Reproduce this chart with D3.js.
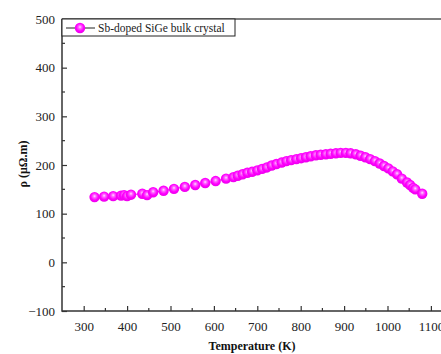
<!DOCTYPE html>
<html><head><meta charset="utf-8">
<script src="https://cdn.jsdelivr.net/npm/d3@7"></script>
<style>body{margin:0;background:#fff}svg{display:block}</style>
</head><body>
<script>
const temperature = [325,347,368,386,393,400,409,435,446,460,484,508,533,557,580,604,628,645,655,666,677,688,700,711,722,733,744,756,767,778,790,801,812,823,835,846,858,869,881,892,904,915,927,938,949,960,971,982,992,1002,1012,1022,1033,1045,1052,1059,1064,1080];
const resistivity = [134,135,136,137,138,136,139,141,138,144,147,151,155,159,163,167,172,175,178,181,184,186,189,192,195,199,202,205,208,210,212,214,216,218,220,221,222,223,224,225,225,224,222,219,216,212,208,203,198,193,187,181,172,164,159,153,150,141];
const xTicks = [300,400,500,600,700,800,900,1000,1100];
const yTicks = [-100,0,100,200,300,400,500];
const seriesName = "Sb-doped SiGe bulk crystal";

const W = 441, H = 354;
const svg = d3.select("body").append("svg").attr("width", W).attr("height", H);
const defs = svg.append("defs");
const grad = defs.append("radialGradient").attr("id","ball").attr("cx","0.5").attr("cy","0.45").attr("r","0.6").attr("fx","0.5").attr("fy","0.4");
grad.append("stop").attr("offset","0%").attr("stop-color","#ffe0ff");
grad.append("stop").attr("offset","25%").attr("stop-color","#ff66ff");
grad.append("stop").attr("offset","60%").attr("stop-color","#ff00ff");
grad.append("stop").attr("offset","100%").attr("stop-color","#e600e6");

const mLeft = 62, mTop = 19, mBottom = 311;
const x = d3.scaleLinear().domain([250, 1150]).range([mLeft, mLeft + 900*0.434]);
const y = d3.scaleLinear().domain([-100, 500]).range([mBottom, mTop]);

const font = "'Liberation Serif','Times New Roman',serif";
const axisColor = "#333";

// x axis
const gx = svg.append("g").attr("transform", `translate(0,${mBottom})`);
gx.call(d3.axisBottom(x).tickValues(xTicks).tickSize(-5).tickPadding(11).tickFormat(d3.format("d")));
gx.selectAll(".tick line").attr("stroke", axisColor).attr("stroke-width", 1.2);
const xMinor = d3.range(350, 1150, 100);
gx.selectAll(".minor").data(xMinor).enter().append("line")
  .attr("x1", d=>x(d)).attr("x2", d=>x(d)).attr("y1",0).attr("y2",-3)
  .attr("stroke", axisColor).attr("stroke-width",1.2);
gx.select(".domain").remove();
gx.append("line").attr("x1", mLeft).attr("x2", W+20).attr("y1",0).attr("y2",0).attr("stroke",axisColor).attr("stroke-width",1.5);
gx.selectAll(".tick text").attr("font-family", font).attr("font-size", 13).attr("fill","#222");

// y axis
const gy = svg.append("g").attr("transform", `translate(${mLeft},0)`);
gy.call(d3.axisLeft(y).tickValues(yTicks).tickSize(-5).tickPadding(7).tickFormat(d3.format("d")));
gy.selectAll(".tick line").attr("stroke", axisColor).attr("stroke-width", 1.2);
const yMinor = d3.range(-50, 500, 100);
gy.selectAll(".minor").data(yMinor).enter().append("line")
  .attr("x1",0).attr("x2",3).attr("y1", d=>y(d)).attr("y2", d=>y(d))
  .attr("stroke", axisColor).attr("stroke-width",1.2);
gy.select(".domain").remove();
gy.append("line").attr("x1",0).attr("x2",0).attr("y1",mTop).attr("y2",mBottom+0.75).attr("stroke",axisColor).attr("stroke-width",1.5);
gy.selectAll(".tick text").attr("font-family", font).attr("font-size", 13).attr("fill","#222");

// top border
svg.append("line").attr("x1", mLeft).attr("x2", W+20).attr("y1", mTop).attr("y2", mTop).attr("stroke","#555").attr("stroke-width",1.5);

// data
const data = temperature.map((t,i)=>({t, r: resistivity[i]}));
svg.append("path").datum(data)
  .attr("d", d3.line().x(d=>x(d.t)).y(d=>y(d.r)))
  .attr("fill","none").attr("stroke","#ff00ff").attr("stroke-width",1);
svg.selectAll(".pt").data(data).enter().append("circle")
  .attr("cx", d=>x(d.t)).attr("cy", d=>y(d.r)).attr("r", 5.2)
  .attr("fill","url(#ball)");

// legend
const lg = svg.append("g");
lg.append("rect").attr("x", mLeft).attr("y", mTop).attr("width", 173).attr("height", 17)
  .attr("fill","#fff").attr("stroke","#222").attr("stroke-width",1);
lg.append("line").attr("x1", mLeft+4).attr("x2", mLeft+33).attr("y1", mTop+9).attr("y2", mTop+9).attr("stroke","#222").attr("stroke-width",1);
lg.append("circle").attr("cx", mLeft+18).attr("cy", mTop+9).attr("r",5.2).attr("fill","url(#ball)");
lg.append("text").attr("x", mLeft+36).attr("y", mTop+12.5).attr("font-family", font).attr("font-size", 11.5).attr("fill","#222").text(seriesName);

// axis titles
svg.append("text").attr("x", 252).attr("y", 350).attr("text-anchor","middle")
  .attr("font-family", font).attr("font-weight","bold").attr("font-size", 12).attr("fill","#111").text("Temperature (K)");
svg.append("text").attr("transform","translate(27,164) rotate(-90)").attr("text-anchor","middle")
  .attr("font-family", font).attr("font-weight","bold").attr("font-size", 12).attr("fill","#111").text("ρ (μΩ.m)");
</script>
</body></html>
